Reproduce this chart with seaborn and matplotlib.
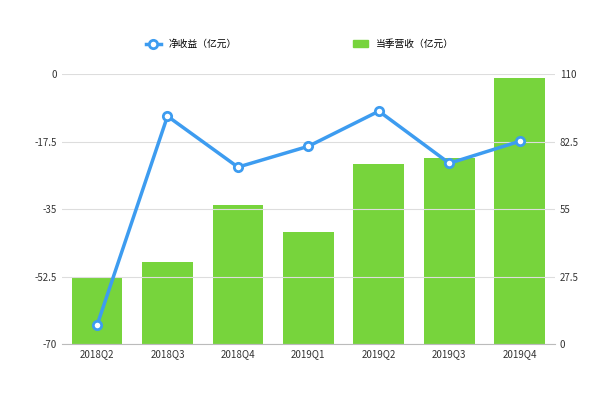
import matplotlib
matplotlib.use("Agg")
import matplotlib.pyplot as plt
import seaborn as sns
import pandas as pd
from matplotlib.lines import Line2D
from matplotlib.patches import Patch

plt.rcParams["font.family"] = ["Noto Sans CJK SC", "DejaVu Sans"]

quarters = ["2018Q2", "2018Q3", "2018Q4", "2019Q1", "2019Q2", "2019Q3", "2019Q4"]
revenue = [27.0, 33.4, 56.6, 45.6, 73.3, 75.8, 108.4]
net_income = [-65.1, -10.9, -24.1, -18.7, -9.6, -23.1, -17.4]
left_ticks = [0, -17.5, -35, -52.5, -70]
right_ticks = [0, 27.5, 55, 82.5, 110]

df = pd.DataFrame({"q": quarters, "rev": revenue, "ni": net_income})
green = "#77d43c"
blue = "#3d9cf0"

fig = plt.figure(figsize=(6, 4.05), dpi=100)
ax = fig.add_axes([0.103, 0.15, 0.822, 0.667])
ax2 = ax.twinx()

sns.barplot(data=df, x="q", y="rev", ax=ax2, color=green, width=0.72, saturation=1)
ax2.set_ylim(0, 110)
ax2.set_yticks(right_ticks)
ax2.set_yticklabels(["0", "27.5", "55", "82.5", "110"])

ax.set_ylim(-70, 0)
ax.set_yticks(left_ticks)
ax.set_yticklabels(["0", "-17.5", "-35", "-52.5", "-70"])
ax.grid(axis="y", color="#dddddd", lw=0.8)
ax.set_axisbelow(True)
ax2.set_zorder(0); ax.set_zorder(1); ax.patch.set_visible(False)
sns.lineplot(x=list(range(len(quarters))), y=net_income, ax=ax, color=blue, lw=2.5,
             marker="o", markersize=6, markerfacecolor="white", markeredgecolor=blue, markeredgewidth=2)
ax.set_xlim(-0.5, 6.5)
ax.set_xticks(range(len(quarters)))
ax.set_xticklabels(quarters)

for a in (ax, ax2):
    a.set_xlabel(""); a.set_ylabel("")
    for s in a.spines.values():
        s.set_visible(False)
    a.tick_params(length=0, labelsize=7, colors="#333333")
ax.spines["bottom"].set_visible(True)
ax.spines["bottom"].set_color("#bbbbbb")
ax2.grid(False)

handles = [Line2D([], [], color=blue, lw=2.5, marker="o", markerfacecolor="white", markeredgewidth=2, markersize=6),
           Patch(color=green)]
fig.legend(handles, ["净收益（亿元）", "当季营收（亿元）"], loc="upper center", bbox_to_anchor=(0.5, 0.925),
           ncol=2, frameon=False, fontsize=7, columnspacing=12, handlelength=1.5)
fig.savefig("out.png", dpi=100)
